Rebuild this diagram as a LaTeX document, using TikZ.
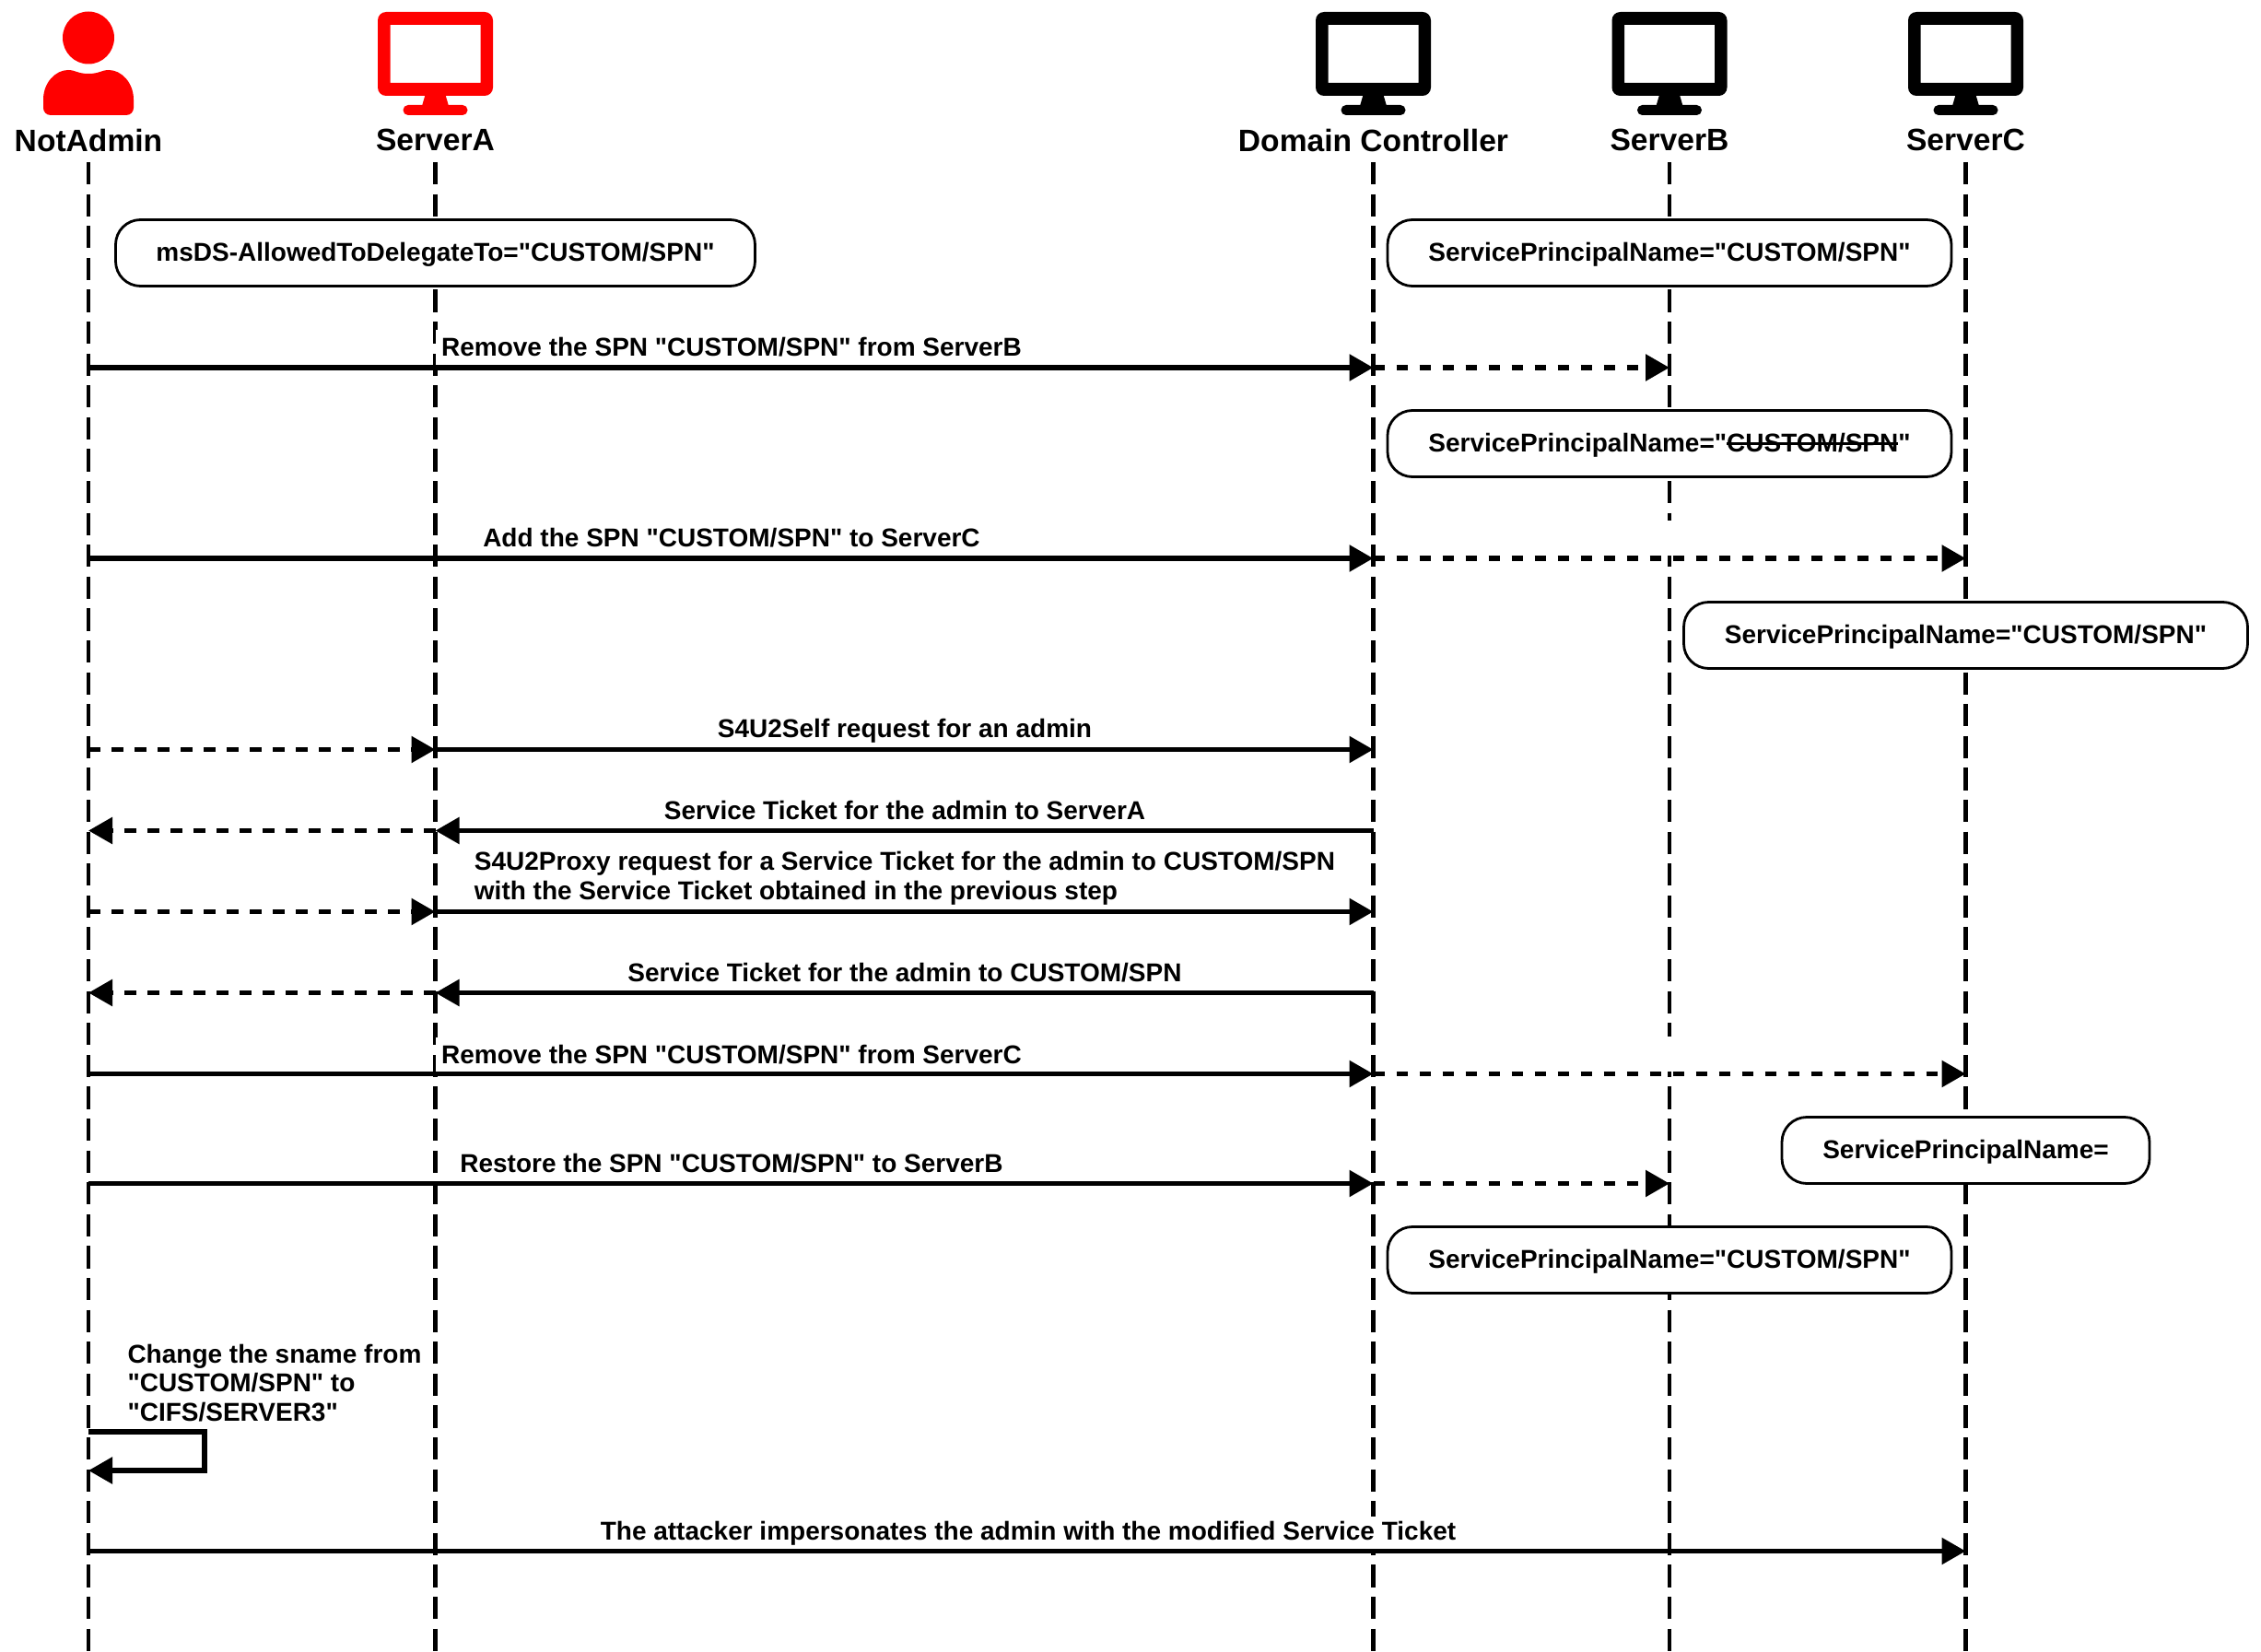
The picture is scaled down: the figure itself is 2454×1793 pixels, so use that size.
\documentclass[tikz,border=0pt]{standalone}
\usepackage{fontspec}
\newfontfamily\labelfont{Liberation Sans}
\usetikzlibrary{arrows.meta}
\newcommand\monitorat[2]{%
  \begin{scope}[shift={(#1,0)}]
    \fill[#2,even odd rule] [rounded corners=4.5pt] (-62.5,13) rectangle (62.5,104)
      [sharp corners] (-49,27) rectangle (49,90);
    \fill[#2] (-11,103) -- (11,103) -- (14.5,115) -- (-14.5,115) -- cycle;
    \fill[#2,rounded corners=2.7pt] (-35,114) rectangle (35,125);
  \end{scope}}
\newcommand\strk[1]{\setbox0\hbox{#1}\rlap{\raisebox{0.26em}{\rule{\wd0}{0.08em}}}\box0 }
\newcommand\boxtext[1]{\raisebox{-4.25pt}[0pt][0pt]{#1}}
\tikzset{
  head/.style={font=\labelfont\fontsize{16.8}{20}\selectfont\bfseries,inner sep=0pt},
  life/.style={line width=2.4pt,dash pattern=on 12.1pt off 5.2pt},
  bubble/.style={draw=black,fill=white,line width=1.4pt,rounded corners=13.5pt,minimum height=36pt,
    font=\labelfont\fontsize{14}{15.75}\selectfont\bfseries,inner sep=0pt},
  msglabel/.style={fill=white,font=\labelfont\fontsize{14}{15.75}\selectfont\bfseries,inner xsep=3pt,inner ysep=0pt,minimum height=19pt},
  gapmark/.style={fill=white,inner sep=0pt,minimum width=5pt,minimum height=19pt},
  solidmsg/.style={line width=2.8pt,-{Triangle[length=13pt,width=14pt]}},
  dashmsg/.style={solidmsg,dash pattern=on 6.25pt off 6.25pt},
}
\begin{document}
\begin{tikzpicture}[x=0.5pt,y=-0.5pt]
\useasboundingbox (0,0) rectangle (2454,1793);
% icons
\fill[red] (96,41) ellipse[x radius=28,y radius=28.5];
\fill[red] (55,125) .. controls (50,125) and (47,121) .. (47,117) -- (47,108)
  .. controls (47,90) and (60,76) .. (74,76) .. controls (82,76) and (84,80) .. (96,80)
  .. controls (108,80) and (110,76) .. (118,76) .. controls (132,76) and (145,90) .. (145,108)
  -- (145,117) .. controls (145,121) and (142,125) .. (137,125) -- cycle;
\monitorat{472.5}{red}
\monitorat{1490.5}{black}
\monitorat{1812}{black}
\monitorat{2133.5}{black}
% headers
\node[head] (na) at (96,152) {NotAdmin};
\node[head] (sa) at (472.5,152) {ServerA};
\node[head] (dc) at (1490.5,152) {Domain Controller};
\node[head] (sb) at (1812,152) {ServerB};
\node[head] (sc) at (2133.5,152) {ServerC};
% rows
\coordinate (top) at (0,176);
\coordinate (bot) at (0,1793);
\coordinate (m1) at (0,399);
\coordinate (m2) at (0,606);
\coordinate (m3) at (0,813.5);
\coordinate (m4) at (0,901.5);
\coordinate (m5) at (0,989.5);
\coordinate (m6) at (0,1077.5);
\coordinate (m7) at (0,1165.5);
\coordinate (m8) at (0,1284.5);
\coordinate (la) at (0,1554);
\coordinate (lb) at (0,1596);
\coordinate (lc) at (222,0);
\coordinate (m9) at (0,1683.5);
% lifelines
\draw[life] (na|-top) -- (na|-bot);
\draw[life] (sa|-top) -- (sa|-bot);
\draw[life] (dc|-top) -- (dc|-bot);
\draw[life] (sb|-top) -- (sb|-bot);
\draw[life] (sc|-top) -- (sc|-bot);
% blank labels of the dashed messages
\node[gapmark] (g1) at (1812,584) {};
\node[gapmark] (g2) at (1812,1144) {};
% labels
\node[msglabel] (t1) at (794,377) {Remove the SPN "CUSTOM/SPN" from ServerB};
\node[msglabel] (t2) at (794,584) {Add the SPN "CUSTOM/SPN" to ServerC};
\node[msglabel] (t3) at (982,793.5) {S4U2Self request for an admin};
\node[msglabel] (t4) at (982,879.5) {Service Ticket for the admin to ServerA};
\node[msglabel,align=left] (t5) at (982,953.5) {S4U2Proxy request for a Service Ticket for the admin to CUSTOM/SPN\\with the Service Ticket obtained in the previous step};
\node[msglabel] (t6) at (982,1055.5) {Service Ticket for the admin to CUSTOM/SPN};
\node[msglabel] (t7) at (794,1144.5) {Remove the SPN "CUSTOM/SPN" from ServerC};
\node[msglabel] (t8) at (794,1263) {Restore the SPN "CUSTOM/SPN" to ServerB};
\node[msglabel,align=left] (t9) at (298,1501) {Change the sname from\\"CUSTOM/SPN" to\\"CIFS/SERVER3"};
\node[msglabel] (t10) at (1116,1664.5) {The attacker impersonates the admin with the modified Service Ticket};
% boxes
\node[bubble,minimum width=347pt] (b1) at (472.5,274.5) {\boxtext{msDS-AllowedToDelegateTo="CUSTOM/SPN"}};
\node[bubble,minimum width=306pt] (b2) at (1812,274.5) {\boxtext{ServicePrincipalName="CUSTOM/SPN"}};
\node[bubble,minimum width=306pt] (b3) at (1812,481.5) {\boxtext{ServicePrincipalName="\strk{CUSTOM/SPN}"}};
\node[bubble,minimum width=306pt] (b4) at (2133.5,689.5) {\boxtext{ServicePrincipalName="CUSTOM/SPN"}};
\node[bubble,minimum width=199.5pt] (b5) at (2133.5,1248.5) {\boxtext{ServicePrincipalName=}};
\node[bubble,minimum width=306pt] (b6) at (1812,1367.5) {\boxtext{ServicePrincipalName="CUSTOM/SPN"}};
% messages
\draw[solidmsg] (na|-m1) -- (dc|-m1);
\draw[dashmsg] (dc|-m1) -- (sb|-m1);
\draw[solidmsg] (na|-m2) -- (dc|-m2);
\draw[dashmsg] (dc|-m2) -- (sc|-m2);
\draw[dashmsg] (na|-m3) -- (sa|-m3);
\draw[solidmsg] (sa|-m3) -- (dc|-m3);
\draw[solidmsg] (dc|-m4) -- (sa|-m4);
\draw[dashmsg] (sa|-m4) -- (na|-m4);
\draw[dashmsg] (na|-m5) -- (sa|-m5);
\draw[solidmsg] (sa|-m5) -- (dc|-m5);
\draw[solidmsg] (dc|-m6) -- (sa|-m6);
\draw[dashmsg] (sa|-m6) -- (na|-m6);
\draw[solidmsg] (na|-m7) -- (dc|-m7);
\draw[dashmsg] (dc|-m7) -- (sc|-m7);
\draw[solidmsg] (na|-m8) -- (dc|-m8);
\draw[dashmsg] (dc|-m8) -- (sb|-m8);
\draw[solidmsg] (na|-la) -- (lc|-la) -- (lc|-lb) -- (na|-lb);
\draw[solidmsg] (na|-m9) -- (sc|-m9);
\end{tikzpicture}
\end{document}
